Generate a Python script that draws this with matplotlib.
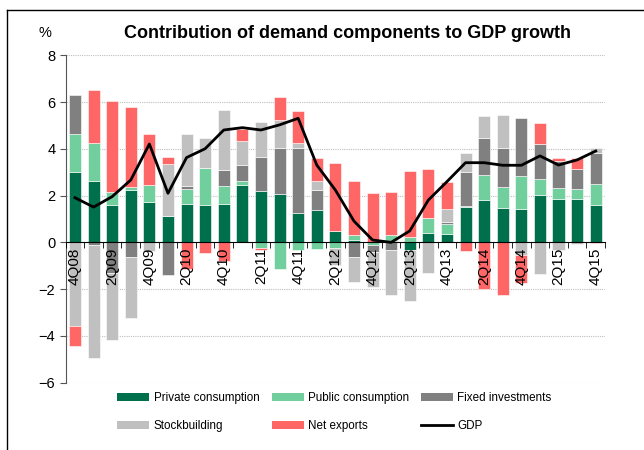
#!/usr/bin/env python3
"""Contribution of demand components to GDP growth (stacked bars + GDP line)."""

import matplotlib
matplotlib.use("Agg")
import matplotlib.pyplot as plt
import numpy as np
from matplotlib.lines import Line2D
from matplotlib.patches import Patch

plt.rcParams["font.family"] = ["Liberation Sans", "DejaVu Sans"]

quarters = ["4Q08", "1Q09", "2Q09", "3Q09", "4Q09", "1Q10", "2Q10", "3Q10", "4Q10",
            "1Q11", "2Q11", "3Q11", "4Q11", "1Q12", "2Q12", "3Q12", "4Q12",
            "1Q13", "2Q13", "3Q13", "4Q13", "1Q14", "2Q14", "3Q14", "4Q14",
            "1Q15", "2Q15", "3Q15", "4Q15"]

private = [3.03, 2.63, 1.61, 2.26, 1.74, 1.11, 1.66, 1.61, 1.66, 2.47, 2.21, 2.06, 1.27,
           1.40, 0.49, 0.11, 0.00, 0.05, -0.33, 0.40, 0.36, 1.53, 1.81, 1.49, 1.44,
           2.04, 1.87, 1.87, 1.59]
public = [1.60, 1.64, 0.53, 0.11, 0.70, 0.03, 0.63, 1.59, 0.74, 0.16, -0.24, -1.14, -0.33,
          -0.27, -0.26, 0.20, -0.12, 0.28, 0.21, 0.64, 0.43, 0.04, 1.07, 0.87, 1.40,
          0.67, 0.46, 0.43, 0.90]
fixed = [1.66, -0.11, -1.30, -0.61, 0.00, -1.40, 0.12, 0.00, 0.71, 0.68, 1.46, 2.00, 2.76,
         0.84, 0.00, -0.61, -0.30, -0.33, 0.00, 0.00, 0.08, 1.46, 1.57, 1.70, 2.49,
         1.52, 1.14, 0.86, 1.34]
stock = [-3.59, -4.86, -2.86, -2.65, -0.37, 2.20, 2.22, 1.27, 2.55, 1.03, 1.47, 1.18, 0.23,
         0.37, -0.70, -1.09, -1.50, -1.93, -2.20, -1.33, 0.54, 0.79, 0.97, 1.40, -0.55,
         -1.36, -0.34, -0.09, 0.19]
net = [-0.84, 2.24, 3.93, 3.44, 2.20, 0.30, -1.14, -0.44, -0.81, 0.52, -0.10, 0.99, 1.37,
       1.00, 2.92, 2.31, 2.10, 1.84, 2.83, 2.09, 1.17, -0.39, -2.00, -2.25, -1.20,
       0.87, 0.14, 0.46, -0.04]
gdp = [1.91, 1.51, 1.96, 2.67, 4.21, 2.10, 3.63, 4.01, 4.81, 4.91, 4.81, 5.03, 5.31,
       3.31, 2.24, 0.91, 0.10, 0.00, 0.49, 1.81, 2.60, 3.41, 3.41, 3.30, 3.30,
       3.70, 3.31, 3.53, 3.91]

series = [
    ("Private consumption", private, "#006F4C"),
    ("Public consumption", public, "#70CF9C"),
    ("Fixed investments", fixed, "#808080"),
    ("Stockbuilding", stock, "#C0C0C0"),
    ("Net exports", net, "#FF6666"),
]

fig = plt.figure(figsize=(6.44, 4.5), dpi=100)
ax = fig.add_axes([0.102, 0.150, 0.8375, 0.7267])

x = np.arange(len(quarters))
yticks = np.arange(-6, 9, 2)

# dotted gridlines drawn under the bars
for yv in yticks:
    if yv != 0:
        ax.axhline(yv, linestyle=(0, (1, 1)), color="#BFBFBF", linewidth=0.8, zorder=0)

pos_base = np.zeros(len(x))
neg_base = np.zeros(len(x))
for name, vals, color in series:
    v = np.array(vals, dtype=float)
    base = np.where(v >= 0, pos_base, neg_base)
    ax.bar(x, v, bottom=base, width=0.65, color=color, edgecolor="white",
           linewidth=0.4, zorder=2)
    pos_base += np.where(v >= 0, v, 0)
    neg_base += np.where(v < 0, v, 0)

ax.plot(x, gdp, color="black", linewidth=2, zorder=4)

ax.set_xlim(-0.5, len(x) - 0.5)
ax.set_ylim(-6, 8)
ax.set_yticks(yticks)
ax.set_axisbelow(False)

ax.spines["top"].set_visible(False)
ax.spines["right"].set_visible(False)
ax.spines["left"].set_color("#555555")
ax.spines["bottom"].set_position(("data", 0))
ax.spines["bottom"].set_color("black")
ax.spines["bottom"].set_zorder(5)

ax.set_xticks(x[::2])
ax.set_xticklabels(quarters[::2], rotation=90, fontsize=11)
ax.set_xticks(np.arange(-0.5, len(x), 1), minor=True)
ax.tick_params(axis="x", which="major", length=0, pad=4)
ax.tick_params(axis="x", which="minor", length=4, direction="out", color="black")
ax.tick_params(axis="y", length=4, direction="out", color="#555555", labelsize=10.5)

fig.text(0.54, 0.926, "Contribution of demand components to GDP growth",
         ha="center", va="center", fontsize=13, fontweight="bold")
fig.text(0.070, 0.926, "%", ha="center", va="center", fontsize=10.5)

# legend, filled column by column
order = [0, 3, 1, 4, 2]
handles = [Patch(facecolor=series[i][2], label=series[i][0]) for i in order]
handles.append(Line2D([0], [0], color="black", linewidth=2, label="GDP"))
fig.legend(handles=handles, ncol=3, loc="upper left", bbox_to_anchor=(0.175, 0.139),
           frameon=False, fontsize=8.4, handlelength=2.75, handleheight=0.7,
           handletextpad=0.35, columnspacing=1.05, labelspacing=1.4, borderaxespad=0)

# outer frame of the original chart
fig.add_artist(Line2D([7 / 644, 7 / 644], [0, 1 - 10 / 450], transform=fig.transFigure,
                      color="black", linewidth=1))
fig.add_artist(Line2D([7 / 644, 1], [1 - 10 / 450, 1 - 10 / 450], transform=fig.transFigure,
                      color="black", linewidth=1))

fig.savefig("out.png", dpi=100)
plt.close(fig)
